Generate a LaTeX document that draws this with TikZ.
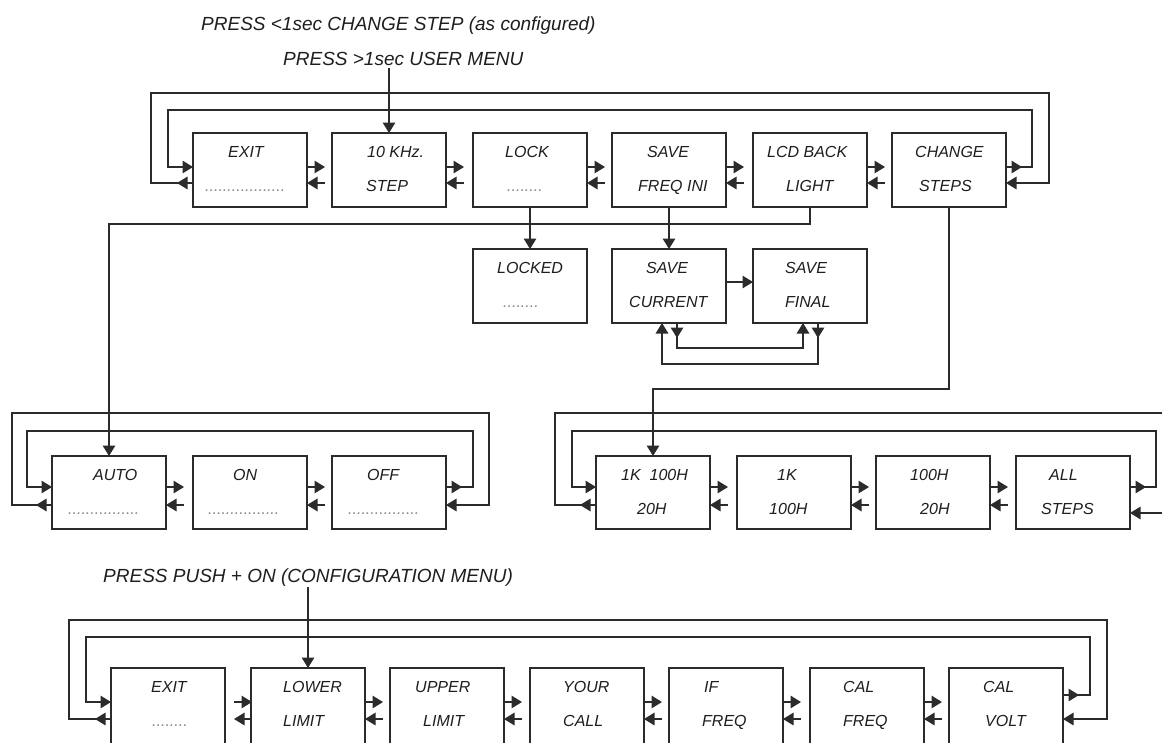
\documentclass[tikz,border=0pt]{standalone}
\usepackage{fontspec}
\setmainfont{Liberation Sans}
\usetikzlibrary{arrows.meta,calc}
\definecolor{linec}{HTML}{2B2B2B}
\definecolor{txtc}{HTML}{1E1E1E}
\definecolor{dotc}{HTML}{8A8A8A}
\tikzset{
  mbox/.style={draw=linec, line width=1.4pt, minimum width=114pt, inner sep=0pt, outer sep=0pt},
  mtxt/.style={font=\fontsize{16}{19}\selectfont\itshape, text=txtc, inner sep=0pt},
  htxt/.style={font=\fontsize{19}{23}\selectfont\itshape, text=txtc, inner sep=0pt},
  conn/.style={draw=linec, line width=1.4pt},
  arr/.style={conn, -{Triangle[length=10.5pt,width=12.5pt]}},
}
\newcommand{\Dts}[1]{\textcolor{dotc}{#1}}
\newcommand{\MBox}[8][74]{%
  \node[mbox, minimum height=#1pt, anchor=north west] (#2) at (#3,#4) {};
  \node[mtxt, anchor=base west] (#2-a) at ($(#2.north west)+(#6,24)$) {#5};
  \node[mtxt, anchor=base west] (#2-b) at ($(#2.north west)+(#8,58)$) {#7};
}
\newcommand{\Gap}[4][0]{%
  \draw[arr] ($(#2.east |- #3)+(#1,0)$) -- ++(18,0);
  \draw[arr] ($(#2.east |- #4)+(#1+18,0)$) -- ++(-18,0);
}
\begin{document}
\begin{tikzpicture}[x=1pt,y=-1pt]
\useasboundingbox (0,0) rectangle (1162,742);
\clip (0,0) rectangle (1162,742);
\fill[white] (0,0) rectangle (1162,742);

% headers
\node[htxt, anchor=base west] (h1) at (201,30) {PRESS <1sec CHANGE STEP (as configured)};
\node[htxt, anchor=base west] (h2) at (283,65) {PRESS >1sec USER MENU};
\node[htxt, anchor=base west] (h3) at (103,582) {PRESS PUSH + ON (CONFIGURATION MENU)};

% row coordinates
\coordinate (tA) at (0,167);
\coordinate (tB) at (0,183);
\coordinate (bus) at (0,224);
\coordinate (mA) at (0,282);
\coordinate (cbus) at (0,389);
\coordinate (bA) at (0,487);
\coordinate (bB) at (0,505);
\coordinate (brIn) at (1175,513);
\coordinate (cA) at (0,702);
\coordinate (cA2) at (0,695);
\coordinate (cB) at (0,719);

% top row
\MBox{exitT}{193}{133}{EXIT}{35}{\Dts{..................}}{12}
\MBox{tenk}{332}{133}{10 KHz.}{35}{STEP}{34}
\MBox{lock}{473}{133}{LOCK}{32}{\Dts{........}}{34}
\MBox{savefi}{612}{133}{SAVE}{35}{FREQ INI}{26}
\MBox{lcd}{753}{133}{LCD BACK}{14}{LIGHT}{33}
\MBox{chg}{892}{133}{CHANGE}{23}{STEPS}{27}

% middle row
\MBox{locked}{473}{249}{LOCKED}{24}{\Dts{........}}{30}
\MBox{savecur}{612}{249}{SAVE}{34}{CURRENT}{17}
\MBox{savefin}{753}{249}{SAVE}{32}{FINAL}{32}

% bottom-left row
\MBox[73]{auto}{52}{456}{AUTO}{41}{\Dts{................}}{16}
\MBox[73]{on}{193}{456}{ON}{40}{\Dts{................}}{15}
\MBox[73]{off}{332}{456}{OFF}{35}{\Dts{................}}{16}

% bottom-right row
\MBox[73]{sa}{596}{456}{1K~~100H}{25}{20H}{41}
\MBox[73]{sb}{737}{456}{1K}{40}{100H}{32}
\MBox[73]{sc}{876}{456}{100H}{34}{20H}{44}
\MBox[73]{sd}{1016}{456}{ALL}{33}{STEPS}{25}

% bottom row
\MBox[76]{exitB}{111}{668}{EXIT}{40}{\Dts{........}}{41}
\MBox[76]{lower}{251}{668}{LOWER}{32}{LIMIT}{32}
\MBox[76]{upper}{390}{668}{UPPER}{25}{LIMIT}{33}
\MBox[76]{your}{530}{668}{YOUR}{33}{CALL}{33}
\MBox[76]{iff}{669}{668}{IF}{35}{FREQ}{33}
\MBox[76]{calf}{810}{668}{CAL}{33}{FREQ}{33}
\MBox[76]{calv}{949}{668}{CAL}{34}{VOLT}{36}

% entry arrows
\draw[arr] ($(h2.south -| tenk.north)+(0,3)$) -- (tenk.north);
\draw[arr] ($(h3.south -| lower.north)+(0,1)$) -- (lower.north);

% top row gaps
\Gap{exitT}{tA}{tB}
\Gap{tenk}{tA}{tB}
\Gap{lock}{tA}{tB}
\Gap{savefi}{tA}{tB}
\Gap{lcd}{tA}{tB}

% top row loops
\coordinate (tIL) at (168,110);
\coordinate (tIR) at (1032,110);
\coordinate (tOL) at (151,93);
\coordinate (tOR) at (1049,93);
\draw[arr] (chg.east |- tA) -- ++(16,0);
\draw[arr] (chg.east |- tA) -| (tIR) -- (tIL) |- (exitT.west |- tA);
\draw[arr] (exitT.west |- tB) -- ++(-16,0);
\draw[arr] (exitT.west |- tB) -| (tOL) -- (tOR) |- (chg.east |- tB);

% drops from top row
\draw[arr] (lcd.south) |- (auto.north |- bus) -- (auto.north);
\draw[arr] (lock.south) -- (locked.north);
\draw[arr] (savefi.south) -- (savecur.north);
\draw[arr] (chg.south) |- (sa.north |- cbus) -- (sa.north);

% save current / final
\draw[arr] (savecur.east |- mA) -- (savefin.west |- mA);
\draw[arr] ($(savecur.south)+(8,0)$) -- ++(0,15);
\draw[arr] ($(savecur.south)+(8,0)$) -- ++(0,25) -| ($(savefin.south)+(-7,0)$);
\draw[arr] ($(savefin.south)+(8,0)$) -- ++(0,15);
\draw[arr] ($(savefin.south)+(8,0)$) -- ++(0,41) -| ($(savecur.south)+(-7,0)$);

% bottom-left row
\Gap{auto}{bA}{bB}
\Gap{on}{bA}{bB}
\coordinate (blIL) at (27,431);
\coordinate (blIR) at (473,431);
\coordinate (blOL) at (12,413);
\coordinate (blOR) at (489,413);
\draw[arr] (off.east |- bA) -- ++(16,0);
\draw[arr] (off.east |- bA) -| (blIR) -- (blIL) |- (auto.west |- bA);
\draw[arr] (auto.west |- bB) -- ++(-16,0);
\draw[arr] (auto.west |- bB) -| (blOL) -- (blOR) |- (off.east |- bB);

% bottom-right row
\Gap{sa}{bA}{bB}
\Gap{sb}{bA}{bB}
\Gap{sc}{bA}{bB}
\coordinate (brIL) at (572,431);
\coordinate (brIR) at (1156,431);
\coordinate (brOL) at (555,413);
\coordinate (brOR) at (1175,413);
\draw[arr] (sd.east |- bA) -- ++(16,0);
\draw[arr] (sd.east |- bA) -| (brIR) -- (brIL) |- (sa.west |- bA);
\draw[arr] (sa.west |- bB) -- ++(-16,0);
\draw[conn] (sa.west |- bB) -| (brOL) -- (brOR);
\draw[arr] (brIn) -- (sd.east |- brIn);

% bottom row
\Gap[9]{exitB}{cA}{cB}
\Gap{lower}{cA}{cB}
\Gap{upper}{cA}{cB}
\Gap{your}{cA}{cB}
\Gap{iff}{cA}{cB}
\Gap{calf}{cA}{cB}
\coordinate (cIL) at (86,637);
\coordinate (cIR) at (1090,637);
\coordinate (cOL) at (69,620);
\coordinate (cOR) at (1107,620);
\draw[arr] (calv.east |- cA2) -- ++(16,0);
\draw[arr] (calv.east |- cA2) -| (cIR) -- (cIL) |- (exitB.west |- cA);
\draw[arr] (exitB.west |- cB) -- ++(-16,0);
\draw[arr] (exitB.west |- cB) -| (cOL) -- (cOR) |- (calv.east |- cB);
\end{tikzpicture}
\end{document}
